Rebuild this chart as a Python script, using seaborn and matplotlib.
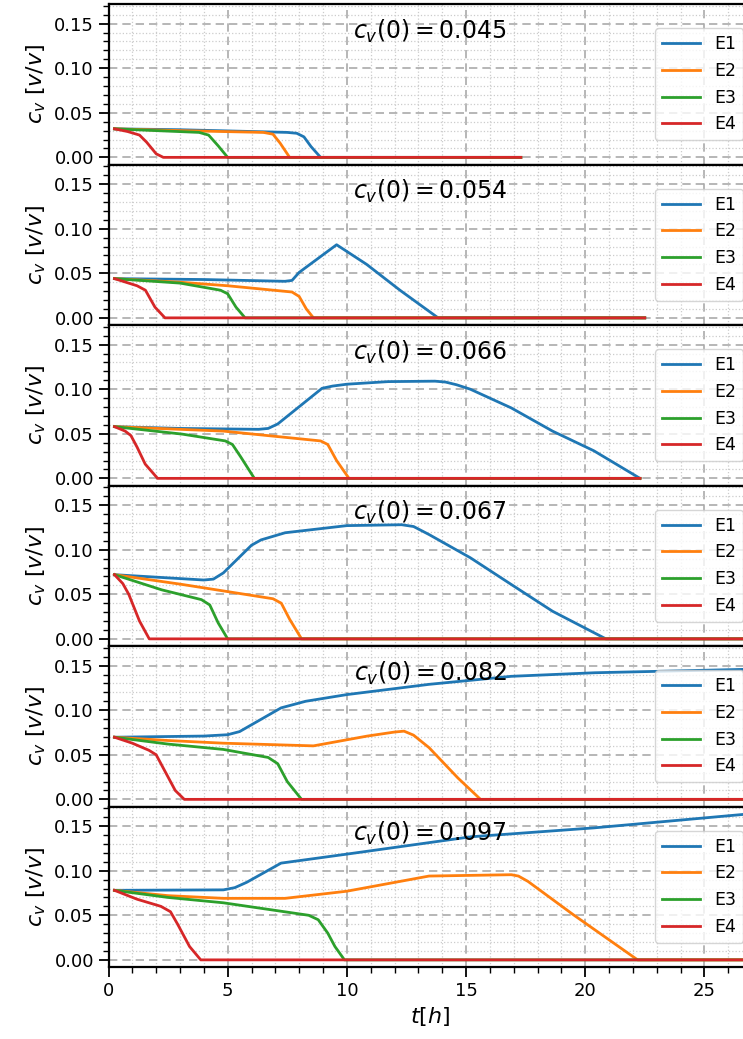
import numpy as np
import pandas as pd
import matplotlib
matplotlib.use("Agg")
import matplotlib.pyplot as plt
from matplotlib.ticker import MultipleLocator
import seaborn as sns

# ---------------- data ----------------
series_names = ["E1", "E2", "E3", "E4"]
panel_c0 = ["0.045", "0.054", "0.066", "0.067", "0.082", "0.097"]
panel_tend = [17.3, 22.5, 22.3, 27.0, 27.0, 27.0]

# panel 1 : c_v(0) = 0.045
p1_E1_t = [0.25, 3.0, 6.0, 7.5, 7.9, 8.2, 8.5, 8.9]
p1_E1_c = [0.032, 0.031, 0.029, 0.028, 0.027, 0.023, 0.012, 0.0]
p1_E2_t = [0.25, 3.0, 6.5, 6.9, 7.2, 7.6]
p1_E2_c = [0.032, 0.030, 0.028, 0.026, 0.016, 0.0]
p1_E3_t = [0.25, 2.0, 3.8, 4.2, 4.6, 5.0]
p1_E3_c = [0.032, 0.030, 0.028, 0.025, 0.013, 0.0]
p1_E4_t = [0.25, 0.8, 1.3, 1.6, 2.0, 2.3]
p1_E4_c = [0.032, 0.029, 0.025, 0.017, 0.004, 0.0]

# panel 2 : c_v(0) = 0.054
p2_E1_t = [0.25, 4.0, 7.4, 7.7, 8.0, 9.57, 10.83, 12.23, 13.83]
p2_E1_c = [0.044, 0.043, 0.041, 0.042, 0.051, 0.082, 0.060, 0.031, 0.0]
p2_E2_t = [0.25, 3.0, 5.0, 7.7, 8.0, 8.3, 8.6]
p2_E2_c = [0.044, 0.040, 0.036, 0.029, 0.024, 0.010, 0.0]
p2_E3_t = [0.25, 3.0, 4.7, 5.0, 5.35, 5.73]
p2_E3_c = [0.044, 0.039, 0.031, 0.027, 0.012, 0.0]
p2_E4_t = [0.25, 1.2, 1.55, 1.95, 2.37]
p2_E4_c = [0.044, 0.036, 0.031, 0.012, 0.0]

# panel 3 : c_v(0) = 0.066
p3_E1_t = [0.25, 3.0, 6.3, 6.7, 7.1, 8.96, 9.4, 10.0, 11.73, 13.7, 14.14, 14.6, 15.18, 16.9, 18.63, 20.36, 22.3]
p3_E1_c = [0.058, 0.056, 0.055, 0.056, 0.061, 0.101, 0.1035, 0.1056, 0.1085, 0.109, 0.108, 0.105, 0.100, 0.079, 0.053, 0.031, 0.0]
p3_E2_t = [0.25, 4.82, 8.9, 9.2, 9.57, 10.09]
p3_E2_c = [0.058, 0.053, 0.042, 0.038, 0.020, 0.0]
p3_E3_t = [0.25, 3.1, 4.9, 5.2, 5.55, 6.12]
p3_E3_c = [0.058, 0.0496, 0.042, 0.038, 0.024, 0.0]
p3_E4_t = [0.25, 0.7, 0.94, 1.2, 1.54, 2.06]
p3_E4_c = [0.058, 0.053, 0.048, 0.035, 0.016, 0.0]

# panel 4 : c_v(0) = 0.067
p4_E1_t = [0.25, 4.0, 4.4, 4.82, 6.0, 6.4, 7.41, 10.0, 12.3, 12.8, 13.45, 15.18, 16.9, 18.63, 20.87]
p4_E1_c = [0.072, 0.066, 0.067, 0.074, 0.105, 0.111, 0.119, 0.127, 0.128, 0.126, 0.117, 0.091, 0.061, 0.031, 0.0]
p4_E2_t = [0.25, 3.1, 5.0, 6.9, 7.25, 7.6, 8.1]
p4_E2_c = [0.072, 0.061, 0.053, 0.045, 0.040, 0.022, 0.0]
p4_E3_t = [0.25, 2.23, 3.9, 4.25, 4.6, 5.0]
p4_E3_c = [0.072, 0.055, 0.044, 0.038, 0.018, 0.0]
p4_E4_t = [0.25, 0.6, 0.85, 1.3, 1.71]
p4_E4_c = [0.072, 0.062, 0.050, 0.020, 0.0]

# panel 5 : c_v(0) = 0.082
p5_E1_t = [0.25, 4.0, 5.0, 5.5, 7.24, 8.27, 10.0, 13.45, 16.9, 20.4, 27.0]
p5_E1_c = [0.0697, 0.071, 0.0725, 0.076, 0.1026, 0.110, 0.1175, 0.129, 0.138, 0.142, 0.146]
p5_E2_t = [0.25, 2.5, 4.82, 8.6, 10.86, 12.0, 12.4, 12.8, 13.45, 14.66, 15.61]
p5_E2_c = [0.0697, 0.066, 0.063, 0.060, 0.071, 0.0755, 0.0765, 0.072, 0.058, 0.024, 0.0]
p5_E3_t = [0.25, 2.5, 4.82, 6.7, 7.1, 7.5, 8.1]
p5_E3_c = [0.0697, 0.062, 0.056, 0.047, 0.040, 0.020, 0.0]
p5_E4_t = [0.25, 1.0, 1.7, 2.0, 2.4, 2.8, 3.18]
p5_E4_c = [0.0697, 0.063, 0.055, 0.050, 0.030, 0.010, 0.0]

# panel 6 : c_v(0) = 0.097
p6_E1_t = [0.25, 4.82, 5.3, 5.8, 7.24, 10.0, 15.2, 20.36, 27.0]
p6_E1_c = [0.078, 0.0785, 0.081, 0.087, 0.1085, 0.1186, 0.138, 0.148, 0.164]
p6_E2_t = [0.25, 2.5, 4.82, 7.41, 10.0, 13.45, 16.9, 17.2, 17.6, 19.5, 22.2]
p6_E2_c = [0.078, 0.072, 0.069, 0.069, 0.077, 0.094, 0.0955, 0.094, 0.088, 0.0507, 0.0]
p6_E3_t = [0.25, 2.5, 4.82, 8.4, 8.8, 9.2, 9.5, 9.9]
p6_E3_c = [0.078, 0.070, 0.064, 0.050, 0.045, 0.030, 0.015, 0.0]
p6_E4_t = [0.25, 1.2, 2.2, 2.6, 2.9, 3.4, 3.87]
p6_E4_c = [0.078, 0.068, 0.060, 0.054, 0.040, 0.015, 0.0]

panels = [
    [(p1_E1_t, p1_E1_c), (p1_E2_t, p1_E2_c), (p1_E3_t, p1_E3_c), (p1_E4_t, p1_E4_c)],
    [(p2_E1_t, p2_E1_c), (p2_E2_t, p2_E2_c), (p2_E3_t, p2_E3_c), (p2_E4_t, p2_E4_c)],
    [(p3_E1_t, p3_E1_c), (p3_E2_t, p3_E2_c), (p3_E3_t, p3_E3_c), (p3_E4_t, p3_E4_c)],
    [(p4_E1_t, p4_E1_c), (p4_E2_t, p4_E2_c), (p4_E3_t, p4_E3_c), (p4_E4_t, p4_E4_c)],
    [(p5_E1_t, p5_E1_c), (p5_E2_t, p5_E2_c), (p5_E3_t, p5_E3_c), (p5_E4_t, p5_E4_c)],
    [(p6_E1_t, p6_E1_c), (p6_E2_t, p6_E2_c), (p6_E3_t, p6_E3_c), (p6_E4_t, p6_E4_c)],
]

x_ticks = [0, 5, 10, 15, 20, 25]
y_ticks = [0.00, 0.05, 0.10, 0.15]
colors = ["#1f77b4", "#ff7f0e", "#2ca02c", "#d62728"]

# ---------------- figure ----------------
W, H = 743, 1039
fig = plt.figure(figsize=(W / 100, H / 100), dpi=100)

left_px, right_px, top_px, bottom_px = 108.5, 752.0, 4.0, 967.0
n = 6
ph = (bottom_px - top_px) / n
axes = []
for i in range(n):
    y0 = top_px + i * ph
    ax = fig.add_axes([left_px / W, 1 - (y0 + ph) / H, (right_px - left_px) / W, ph / H],
                      sharex=axes[0] if axes else None)
    axes.append(ax)

for i, ax in enumerate(axes):
    rows = []
    for name, (t, c) in zip(series_names, panels[i]):
        tt = list(t)
        cc = list(c)
        if tt[-1] < panel_tend[i]:
            tt.append(panel_tend[i])
            cc.append(0.0)
        rows.append(pd.DataFrame({"t": tt, "c": cc, "series": name}))
    df = pd.concat(rows, ignore_index=True)
    sns.lineplot(data=df, x="t", y="c", hue="series", hue_order=series_names,
                 palette=colors, linewidth=2.0, ax=ax, sort=False, estimator=None)

    ax.set_xlim(0, 27)
    ax.set_ylim(-0.008, 0.172)
    ax.set_xticks(x_ticks)
    ax.set_yticks(y_ticks)
    ax.xaxis.set_minor_locator(MultipleLocator(1))
    ax.yaxis.set_minor_locator(MultipleLocator(0.01))
    ax.set_yticklabels([f"{v:.2f}" for v in y_ticks], fontsize=13)
    ax.grid(which="major", linestyle=(0, (5, 3)), color="#aaaaaa", linewidth=1.2)
    ax.grid(which="minor", linestyle=":", color="#cccccc", linewidth=0.9)
    ax.set_axisbelow(True)
    ax.tick_params(which="major", direction="out", length=7, width=1.3, color="black")
    ax.tick_params(which="minor", direction="out", length=4, width=1.0, color="black")
    for s in ax.spines.values():
        s.set_linewidth(1.6)
        s.set_color("black")
    ax.set_ylabel(r"$c_v$ $[v/v]$", fontsize=16)
    ax.set_xlabel("")
    ax.text(0.5, 0.83, rf"$c_v(0) = {panel_c0[i]}$", transform=ax.transAxes,
            ha="center", va="center", fontsize=17)
    leg = ax.legend(loc="center right", fontsize=12.5, frameon=True, title=None,
                    handlelength=2.2)
    leg.get_frame().set_edgecolor("#cccccc")
    if i < n - 1:
        ax.tick_params(axis="x", which="both", labelbottom=False)

axes[-1].set_xticklabels([str(v) for v in x_ticks], fontsize=13)
axes[-1].set_xlabel(r"$t[h]$", fontsize=16)

fig.savefig("out.png", dpi=100)
